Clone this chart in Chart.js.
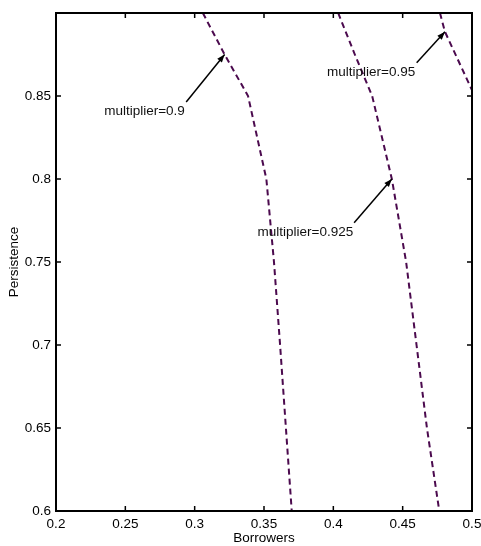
<!DOCTYPE html>
<html>
<head>
<meta charset="utf-8">
<script src="https://cdn.jsdelivr.net/npm/chart.js@4.4.1/dist/chart.umd.min.js"></script>
<style>
  html, body { margin: 0; padding: 0; background: #fff; }
</style>
</head>
<body>
<canvas id="persistChart" width="481" height="546"></canvas>
<script>
/* Persistence vs. borrowers for three multiplier values */
const persistence = [0.9, 0.875, 0.85, 0.8, 0.75, 0.7, 0.65, 0.6];
const borrowersM090 = [0.3059, 0.3216, 0.3385, 0.3517, 0.3572, 0.3616, 0.3658, 0.3700];
const borrowersM0925 = [0.4035, 0.4155, 0.4280, 0.4422, 0.4525, 0.4600, 0.4675, 0.4764];
const persistenceM095 = [0.9, 0.8887, 0.8535];
const borrowersM095 = [0.4769, 0.4805, 0.5];

const xTicks = [0.2, 0.25, 0.3, 0.35, 0.4, 0.45, 0.5];
const yTicks = [0.6, 0.65, 0.7, 0.75, 0.8, 0.85, 0.9];

const lineColor = "#4b0a4e";
const fontFamily = '"Liberation Sans", Arial, sans-serif';
const fontSize = 13.5;

function toPoints(xs, ys) {
  return xs.map((x, i) => ({ x: x, y: ys[i] }));
}

/* Text labels with arrows pointing at a curve point */
const annotations = [
  { text: "multiplier=0.9",   at: [0.2638, 0.8410], from: [0.2939, 0.8464], to: [borrowersM090[1], persistence[1]] },
  { text: "multiplier=0.925", at: [0.3798, 0.7681], from: [0.4150, 0.7736], to: [borrowersM0925[3], persistence[3]] },
  { text: "multiplier=0.95",  at: [0.4273, 0.8645], from: [0.4601, 0.8700], to: [borrowersM095[1], persistenceM095[1]] }
];

/* Box around the plot with inward ticks on all four sides */
const boxPlugin = {
  id: "boxPlugin",
  afterDraw(chart) {
    const { ctx, chartArea: a, scales } = chart;
    ctx.save();
    ctx.strokeStyle = "#000";
    ctx.lineWidth = 1.5;
    const len = 5;
    xTicks.forEach(v => {
      const px = scales.x.getPixelForValue(v);
      ctx.beginPath();
      ctx.moveTo(px, a.bottom); ctx.lineTo(px, a.bottom - len);
      ctx.moveTo(px, a.top); ctx.lineTo(px, a.top + len);
      ctx.stroke();
    });
    yTicks.forEach(v => {
      const py = scales.y.getPixelForValue(v);
      ctx.beginPath();
      ctx.moveTo(a.left, py); ctx.lineTo(a.left + len, py);
      ctx.moveTo(a.right, py); ctx.lineTo(a.right - len, py);
      ctx.stroke();
    });
    ctx.lineWidth = 2;
    ctx.strokeRect(a.left, a.top, a.right - a.left, a.bottom - a.top);

    // annotations
    ctx.font = fontSize + "px " + fontFamily;
    ctx.textAlign = "center";
    ctx.textBaseline = "middle";
    annotations.forEach(an => {
      const tx = scales.x.getPixelForValue(an.at[0]);
      const ty = scales.y.getPixelForValue(an.at[1]);
      ctx.fillStyle = "#111";
      ctx.fillText(an.text, tx, ty);
      const x0 = scales.x.getPixelForValue(an.from[0]);
      const y0 = scales.y.getPixelForValue(an.from[1]);
      const x1 = scales.x.getPixelForValue(an.to[0]);
      const y1 = scales.y.getPixelForValue(an.to[1]);
      ctx.strokeStyle = "#000";
      ctx.lineWidth = 1.5;
      ctx.beginPath();
      ctx.moveTo(x0, y0); ctx.lineTo(x1, y1);
      ctx.stroke();
      const ang = Math.atan2(y1 - y0, x1 - x0);
      const hl = 8, hw = 3;
      ctx.fillStyle = "#000";
      ctx.beginPath();
      ctx.moveTo(x1, y1);
      ctx.lineTo(x1 - hl * Math.cos(ang) + hw * Math.sin(ang), y1 - hl * Math.sin(ang) - hw * Math.cos(ang));
      ctx.lineTo(x1 - hl * Math.cos(ang) - hw * Math.sin(ang), y1 - hl * Math.sin(ang) + hw * Math.cos(ang));
      ctx.closePath();
      ctx.fill();
    });
    ctx.restore();
  }
};

function lineSet(label, pts) {
  return {
    label: label,
    data: pts,
    showLine: true,
    borderColor: lineColor,
    borderWidth: 2,
    borderDash: [6, 4],
    pointRadius: 0,
    tension: 0,
    fill: false
  };
}

new Chart(document.getElementById("persistChart"), {
  type: "scatter",
  data: {
    datasets: [
      lineSet("multiplier=0.9", toPoints(borrowersM090, persistence)),
      lineSet("multiplier=0.925", toPoints(borrowersM0925, persistence)),
      lineSet("multiplier=0.95", toPoints(borrowersM095, persistenceM095))
    ]
  },
  options: {
    responsive: false,
    animation: false,
    layout: { padding: { top: 13, right: 9, left: 0, bottom: 0 } },
    plugins: {
      legend: { display: false },
      tooltip: { enabled: false }
    },
    scales: {
      x: {
        type: "linear",
        min: 0.2,
        max: 0.5,
        afterFit: s => { s.height = 35; s.paddingLeft = 0; s.paddingRight = 0; },
        afterBuildTicks: s => { s.ticks = xTicks.map(v => ({ value: v })); },
        grid: { display: false, drawTicks: false },
        border: { display: false },
        ticks: {
          padding: 5,
          color: "#000",
          font: { family: fontFamily, size: fontSize },
          maxRotation: 0,
          callback: v => String(v)
        },
        title: {
          display: true,
          text: "Borrowers",
          color: "#000",
          font: { family: fontFamily, size: fontSize },
          padding: { top: 0, bottom: 0 }
        }
      },
      y: {
        type: "linear",
        min: 0.6,
        max: 0.9,
        afterFit: s => { s.width = 56; s.paddingTop = 0; s.paddingBottom = 0; },
        afterBuildTicks: s => { s.ticks = yTicks.map(v => ({ value: v })); },
        grid: { display: false, drawTicks: false },
        border: { display: false },
        ticks: {
          padding: 5,
          color: "#000",
          font: { family: fontFamily, size: fontSize },
          callback: v => (v >= 0.9 ? "" : String(Math.round(v * 100) / 100))
        },
        title: {
          display: true,
          text: "Persistence",
          color: "#000",
          font: { family: fontFamily, size: fontSize },
          padding: { top: 6, bottom: 0 }
        }
      }
    }
  },
  plugins: [boxPlugin]
});
</script>
</body>
</html>
